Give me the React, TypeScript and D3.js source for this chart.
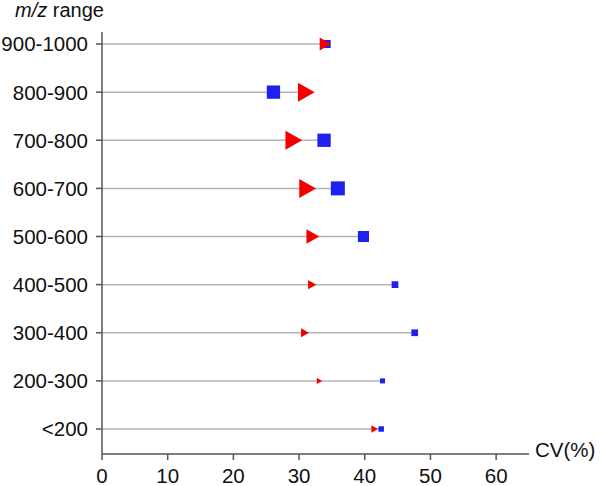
import React from 'react';
import * as d3 from 'd3';

// m/z ranges, bottom to top
const categories = ['<200', '200-300', '300-400', '400-500', '500-600', '600-700', '700-800', '800-900', '900-1000'];
// CV (%) for the two series
const redCV = [41.5, 33.1, 30.9, 32.0, 32.1, 31.3, 29.2, 31.1, 34.0];
const blueCV = [42.5, 42.7, 47.6, 44.6, 39.8, 35.9, 33.8, 26.1, 34.2];
// relative marker sizes (0-10)
const redWeight = [3.9, 3.2, 4.7, 4.9, 7.7, 10, 10, 10, 6.8];
const blueWeight = [3.9, 3.6, 4.8, 4.8, 7.9, 10, 9.5, 9.5, 5.7];
const xTicks = [0, 10, 20, 30, 40, 50, 60];

const W = 601;
const H = 486;
const font = '"Liberation Sans", Arial, sans-serif';

export default function App() {
  const x = d3.scaleLinear().domain([0, 65]).range([102, 529]);
  const y = d3.scalePoint<string>().domain(categories).range([429, 44]);
  const triSize = d3.scaleLinear().domain([0, 10]).range([0, 19]);
  const sqSize = d3.scaleLinear().domain([0, 10]).range([0, 14]);
  const axisY = 454;
  const axisTop = 32;

  // right-pointing triangle centred on its bounding box
  const triangle = (cx: number, cy: number, h: number) => {
    const w = h * 0.88;
    const p = d3.path();
    p.moveTo(cx - w / 2, cy - h / 2);
    p.lineTo(cx + w / 2, cy);
    p.lineTo(cx - w / 2, cy + h / 2);
    p.closePath();
    return p.toString();
  };

  return (
    <svg width={W} height={H} style={{ position: 'absolute', left: 0, top: 0 }} fontFamily={font}>
      <rect width={W} height={H} fill="#fff" />

      {/* rows */}
      {categories.map((c, i) => {
        const cy = y(c)!;
        const end = x(Math.max(redCV[i], blueCV[i]));
        return (
          <g key={c}>
            <line x1={x(0)} x2={end} y1={cy} y2={cy} stroke="#b4b4b4" strokeWidth={1.5} />
            <line x1={x(0) - 6} x2={x(0)} y1={cy} y2={cy} stroke="#555" strokeWidth={1.5} />
            <text x={88} y={cy} dy="0.36em" textAnchor="end" fontSize={20.5} fill="#111">{c}</text>
          </g>
        );
      })}

      {/* markers */}
      {categories.map((c, i) => {
        const s = sqSize(blueWeight[i]);
        return (
          <rect key={'b' + c} x={x(blueCV[i]) - s / 2} y={y(c)! - s / 2} width={s} height={s} fill="#1f1ff0" />
        );
      })}
      {categories.map((c, i) => (
        <path key={'r' + c} d={triangle(x(redCV[i]), y(c)!, triSize(redWeight[i]))} fill="#f20000" />
      ))}

      {/* axes */}
      <line x1={x(0)} x2={x(0)} y1={axisTop} y2={axisY} stroke="#555" strokeWidth={1.5} />
      <line x1={x(0)} x2={x(65)} y1={axisY} y2={axisY} stroke="#555" strokeWidth={1.5} />
      {xTicks.map(t => (
        <g key={t}>
          <line x1={x(t)} x2={x(t)} y1={axisY} y2={axisY + 6} stroke="#555" strokeWidth={1.5} />
          <text x={x(t)} y={483} textAnchor="middle" fontSize={20.5} fill="#111">{t}</text>
        </g>
      ))}
      <text x={535} y={457} fontSize={20.5} fill="#111">CV(%)</text>

      <text x={15} y={17} fontSize={20} fill="#111">
        <tspan fontStyle="italic">m/z</tspan> range
      </text>
    </svg>
  );
}
